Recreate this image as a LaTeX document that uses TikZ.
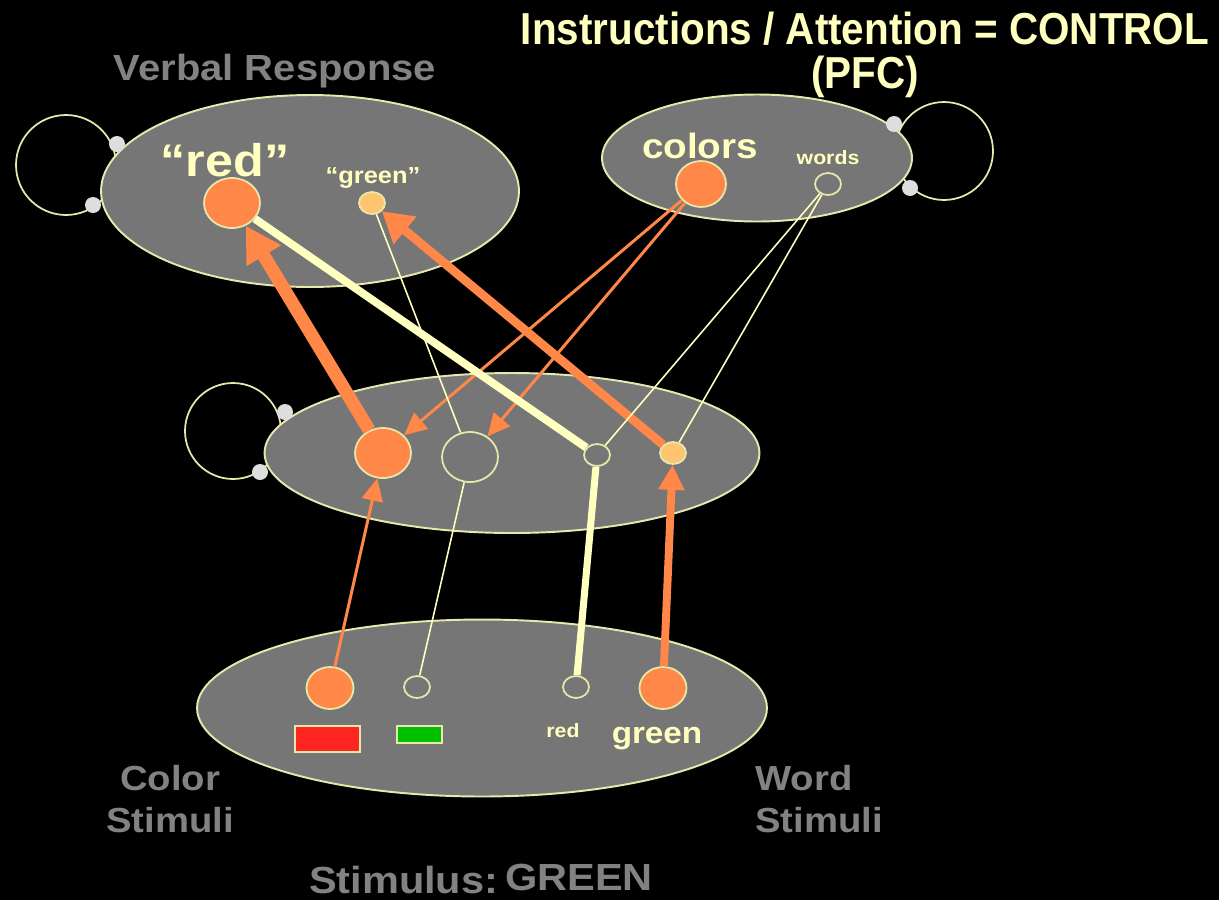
\documentclass[tikz,border=0pt]{standalone}
\usepackage{fontspec}
\setmainfont{Liberation Sans}
\usetikzlibrary{positioning,shapes.geometric,arrows.meta}
\definecolor{layerfill}{RGB}{118,118,118}
\definecolor{rimyellow}{RGB}{232,232,172}
\definecolor{paleyellow}{RGB}{255,255,192}
\definecolor{unitorange}{RGB}{255,135,72}
\definecolor{unitpale}{RGB}{255,196,112}
\definecolor{labelgray}{RGB}{130,130,130}
\definecolor{dotgray}{RGB}{222,222,222}
\definecolor{swatchred}{RGB}{255,38,34}
\definecolor{swatchgreen}{RGB}{0,190,0}

\begin{document}
\begin{tikzpicture}[x=0.02cm,y=-0.02cm]
\tikzstyle{layer}=[ellipse, draw=rimyellow, line width=1.1pt, fill=layerfill, inner sep=0pt]
\tikzstyle{ring}=[circle, draw=rimyellow, line width=1pt, inner sep=0pt]
\tikzstyle{gate}=[circle, fill=dotgray, minimum size=3.2mm, inner sep=0pt]
\tikzstyle{unit}=[ellipse, draw=rimyellow, line width=1pt, inner sep=0pt]
\tikzstyle{big}=[unit, minimum width=11.2mm, minimum height=10mm]
\tikzstyle{medium}=[unit, minimum width=9.4mm, minimum height=8.4mm]
\tikzstyle{small}=[unit, minimum width=5.2mm, minimum height=4.4mm]
\tikzstyle{swatch}=[rectangle, draw=rimyellow, line width=0.6pt, inner sep=0pt]
\tikzstyle{inner}=[text=paleyellow, xscale=1.1, inner sep=0pt]
\tikzstyle{outer}=[text=labelgray, xscale=1.1, inner sep=0pt]
\tikzstyle{wire}=[draw=paleyellow]
\tikzstyle{drive}=[draw=unitorange]

\path[use as bounding box, fill=black] (0,0) rectangle (1219,900);

% recurrent loops (behind the layers)
\node[ring, minimum size=20mm] (vloop) at (66,165) {};
\node[ring, minimum size=19.6mm] (cloop) at (944,151) {};
\node[ring, minimum size=19.2mm] (hloop) at (233,431) {};

% layers
\node[layer, minimum width=83.6mm, minimum height=38.4mm] (verbal) at (310,191) {};
\node[layer, minimum width=62mm, minimum height=25.4mm] (control) at (757,158) {};
\node[layer, minimum width=99mm, minimum height=32mm] (hidden) at (512,453) {};
\node[layer, minimum width=114mm, minimum height=35.4mm] (stimuli) at (482,708) {};

\node[gate] (vgate1) at (117,144) {};
\node[gate] (vgate2) at (93,205) {};
\node[gate] (cgate1) at (894,124) {};
\node[gate] (cgate2) at (910,188) {};
\node[gate] (hgate1) at (285,412) {};
\node[gate] (hgate2) at (260,472) {};

% units
\node[big, fill=unitorange] (rtop) at (232,203) {};
\node[small, fill=unitpale] (gtop) at (372,203) {};
\node[unit, fill=unitorange, minimum width=10mm, minimum height=9.2mm] (cunit) at (701,184) {};
\node[small] (wunit) at (828,184) {};

\node[big, fill=unitorange] (mred) at (383,453) {};
\node[big] (mgreen) at (470,457) {};
\node[small] (mword) at (597,455) {};
\node[small, fill=unitpale] (mpale) at (673,453) {};

\node[medium, fill=unitorange] (bred) at (330,688) {};
\node[small] (bgreen) at (417,687) {};
\node[small] (bwred) at (576,687) {};
\node[medium, fill=unitorange] (bwgreen) at (663,688) {};

\node[swatch, fill=swatchred, minimum width=13mm, minimum height=5.2mm] (redpatch) at (327.5,739) {};
\node[swatch, fill=swatchgreen, minimum width=9mm, minimum height=3.4mm] (greenpatch) at (419.5,734.5) {};

% labels
\node[inner, xscale=0.82, align=center, font=\fontsize{25.5pt}{25.5pt}\selectfont\bfseries] (ctrltitle) at (865,55) {Instructions / Attention = CONTROL\\(PFC)};
\node[outer, font=\fontsize{20.7pt}{24pt}\selectfont\bfseries] (verbaltitle) at (275,71) {Verbal Response};
\node[inner, font=\fontsize{26pt}{28pt}\selectfont\bfseries] (redword) at (225,160) {“red”};
\node[inner, font=\fontsize{13.2pt}{15pt}\selectfont\bfseries] (greenword) at (373,178) {“green”};
\node[inner, font=\fontsize{20pt}{22pt}\selectfont\bfseries] (colorsword) at (700,146) {colors};
\node[inner, font=\fontsize{11pt}{13pt}\selectfont\bfseries] (wordsword) at (828,158) {words};
\node[inner, font=\fontsize{11pt}{13pt}\selectfont\bfseries] (redink) at (563,731) {red};
\node[inner, font=\fontsize{17.2pt}{19pt}\selectfont\bfseries] (greenink) at (657,739) {green};
\node[outer, align=center, font=\fontsize{19.8pt}{24pt}\selectfont\bfseries] (colorstim) at (170,799) {Color\\Stimuli};
\node[outer, align=left, anchor=west, font=\fontsize{19.8pt}{24pt}\selectfont\bfseries] (wordstim) at (755,799) {Word\\Stimuli};
\node[outer, font=\fontsize{21.5pt}{24pt}\selectfont\bfseries] (stimulus) at (481,879) {Stimulus:\,\raisebox{1.5pt}{GREEN}};

% connections
\path (cunit) edge [drive, line width=1.7pt, -{Triangle[length=4.5mm, width=4.2mm]}] (mred);
\path (cunit) edge [drive, line width=1.7pt, -{Triangle[length=4.5mm, width=4.2mm]}] (mgreen);

\path (bred) edge [drive, line width=1.7pt, -{Triangle[length=4.5mm, width=4.2mm]}] (mred);
\path (bgreen) edge [wire, line width=0.9pt] (mgreen);
\path (bwred) edge [wire, line width=4pt] (mword);
\path (bwgreen) edge [drive, line width=4.5pt, -{Triangle[length=5mm, width=5mm]}] (mpale);

\path (mred) edge [drive, line width=7.5pt, -{Triangle[length=7mm, width=7.6mm]}] (rtop);
\path (mgreen) edge [wire, line width=0.9pt] (gtop);
\path (mword) edge [wire, line width=4.5pt] (rtop);
\path (mpale) edge [drive, line width=5pt, -{Triangle[length=6mm, width=6.8mm]}] (gtop);

\path (wunit) edge [wire, line width=0.9pt] (mword);
\path (wunit) edge [wire, line width=0.9pt] (mpale);
\end{tikzpicture}
\end{document}
